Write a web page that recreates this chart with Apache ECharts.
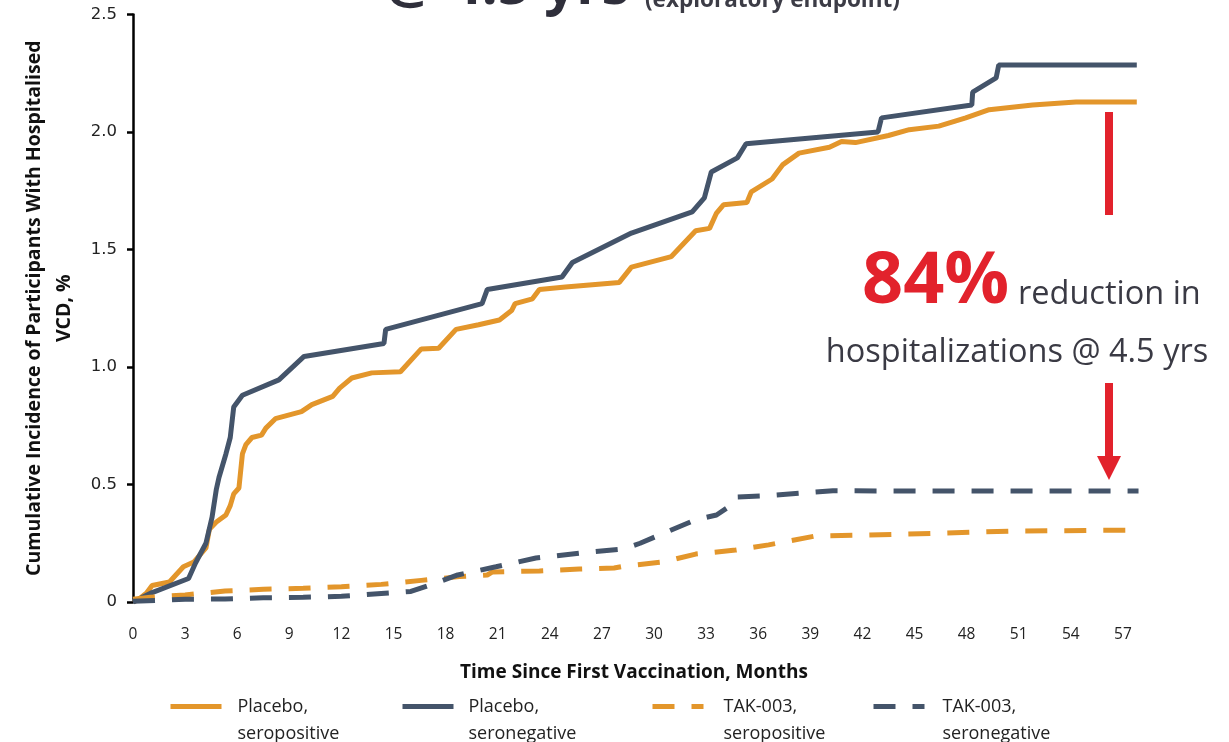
<!DOCTYPE html>
<html>
<head>
<meta charset="utf-8">
<script src="https://cdn.jsdelivr.net/npm/echarts@6/dist/echarts.min.js"></script>
<style>
  html, body { margin: 0; padding: 0; background: #fff; }
  #chart { width: 1229px; height: 742px; }
</style>
</head>
<body>
<div id="chart"></div>
<script>
// months, cumulative incidence %
const placeboSeropos = [
  [0, 0], [0.3, 0.01], [0.8, 0.04], [1.1, 0.07], [2.1, 0.085], [2.9, 0.15], [3.5, 0.17],
  [4.2, 0.23], [4.4, 0.31], [4.8, 0.34], [5.35, 0.37], [5.6, 0.41], [5.8, 0.46], [6.1, 0.485],
  [6.3, 0.63], [6.5, 0.67], [6.85, 0.70], [7.4, 0.71], [7.65, 0.74], [8.2, 0.78], [9.7, 0.81],
  [10.3, 0.84], [11.5, 0.875], [11.9, 0.91], [12.6, 0.953], [13.75, 0.975], [15.4, 0.98],
  [16.6, 1.077], [17.6, 1.08], [18.6, 1.16], [19.9, 1.18], [21.1, 1.20], [21.8, 1.24],
  [22.0, 1.27], [23.0, 1.29], [23.4, 1.33], [24.9, 1.34], [28.0, 1.36], [28.7, 1.425],
  [31.0, 1.47], [32.4, 1.58], [33.2, 1.59], [33.6, 1.655], [34.0, 1.69], [35.35, 1.70],
  [35.6, 1.745], [36.8, 1.80], [37.4, 1.86], [38.35, 1.91], [40.1, 1.935], [40.8, 1.96],
  [41.6, 1.955], [43.5, 1.985], [44.7, 2.01], [46.4, 2.025], [47.95, 2.06], [49.3, 2.095],
  [51.8, 2.115], [54.3, 2.128], [57.8, 2.128]
];
const placeboSeroneg = [
  [0, 0], [1.1, 0.04], [3.2, 0.10], [3.6, 0.166], [4.2, 0.25], [4.55, 0.36], [4.8, 0.48],
  [4.95, 0.53], [5.35, 0.63], [5.6, 0.70], [5.8, 0.83], [6.3, 0.88], [8.4, 0.945],
  [9.85, 1.045], [14.45, 1.10], [14.55, 1.16], [20.1, 1.27], [20.4, 1.33], [24.7, 1.383],
  [25.3, 1.445], [28.7, 1.57], [32.2, 1.66], [32.9, 1.72], [33.3, 1.83], [34.8, 1.89],
  [35.3, 1.95], [42.9, 2.00], [43.1, 2.06], [48.3, 2.115], [48.35, 2.17], [49.7, 2.23],
  [49.85, 2.285], [57.8, 2.285]
];
const takSeropos = [
  [0, 0.012], [1, 0.02], [3, 0.03], [5.3, 0.047], [7.5, 0.054], [9.8, 0.058], [12, 0.065],
  [14.3, 0.075], [16.6, 0.092], [18.8, 0.108], [20.4, 0.115], [20.7, 0.128], [22, 0.13],
  [23.4, 0.132], [25.7, 0.14], [27.7, 0.145], [28.3, 0.153], [30.5, 0.17], [32.4, 0.204],
  [34.7, 0.221], [36.6, 0.243], [39.3, 0.281], [42.4, 0.285], [46.6, 0.293], [50.8, 0.302],
  [57.8, 0.306]
];
const takSeroneg = [
  [0, 0.003], [3, 0.012], [5.3, 0.013], [7.5, 0.018], [9.8, 0.02], [12, 0.024], [14.3, 0.036],
  [16, 0.045], [17.2, 0.075], [18.7, 0.115], [20.9, 0.15], [23.2, 0.187], [25.7, 0.208],
  [28.2, 0.225], [29.2, 0.25], [32.4, 0.35], [33.6, 0.37], [34.3, 0.405], [34.7, 0.447],
  [36.2, 0.451], [38.6, 0.464], [40.3, 0.473], [57.9, 0.472]
];
const seriesNames = ['Placebo,\nseropositive', 'Placebo,\nseronegative', 'TAK-003,\nseropositive', 'TAK-003,\nseronegative'];

const ORANGE = '#e3962b';
const SLATE = '#44546a';
const RED = '#e2222c';

const chart = echarts.init(document.getElementById('chart'));

function legendAt(name, left, padLeft) {
  return {
    data: [name],
    left: left,
    top: 666,
    padding: 0,
    itemWidth: 51,
    itemHeight: 4,
    selectedMode: false,
    lineStyle: { width: 'inherit' },
    itemStyle: { opacity: 0 },
    // blank first line so the icon sits level with the first text line
    formatter: n => '\n' + n,
    textStyle: {
      fontFamily: 'Open Sans',
      fontSize: 18,
      color: '#222',
      lineHeight: 27,
      padding: [0, 0, 0, padLeft]
    }
  };
}

function lineSeries(name, data, color, dashed) {
  return {
    name: name,
    type: 'line',
    data: data,
    symbol: 'none',
    silent: true,
    lineStyle: { color: color, width: 5, type: dashed ? [22, 17] : 'solid', cap: 'butt' },
    itemStyle: { color: color }
  };
}

chart.setOption({
  animation: false,
  grid: { left: 133, right: 54, top: 14.5, bottom: 140 },
  xAxis: {
    type: 'value',
    min: 0,
    max: 60,
    interval: 3,
    axisLine: { show: false },
    axisTick: { show: false },
    splitLine: { show: false },
    axisLabel: {
      showMaxLabel: false,
      margin: 25,
      fontFamily: 'Open Sans',
      fontSize: 15.5,
      color: '#222'
    },
    name: 'Time Since First Vaccination, Months',
    nameLocation: 'middle',
    nameGap: 61,
    nameTextStyle: {
      fontFamily: 'Open Sans',
      fontWeight: 'bold',
      fontSize: 19,
      color: '#111',
      padding: [0, 40, 0, 0]
    }
  },
  yAxis: {
    type: 'value',
    min: 0,
    max: 2.5,
    interval: 0.5,
    axisLine: { show: true, lineStyle: { color: '#000', width: 2.5 } },
    axisTick: { show: true, length: 6, lineStyle: { color: '#000', width: 2.5 } },
    splitLine: { show: false },
    axisLabel: {
      margin: 16,
      fontFamily: 'DejaVu Sans',
      fontSize: 16.5,
      color: '#222',
      formatter: v => (v === 0 ? '0' : v.toFixed(1))
    },
    name: 'Cumulative Incidence of Participants With Hospitalised\nVCD, %',
    nameLocation: 'middle',
    nameRotate: 90,
    nameGap: 48,
    nameTextStyle: {
      fontFamily: 'Open Sans',
      fontWeight: 'bold',
      fontSize: 19.5,
      lineHeight: 30,
      color: '#111'
    }
  },
  legend: [
    legendAt(seriesNames[0], 168, 11),
    legendAt(seriesNames[1], 400, 10),
    legendAt(seriesNames[2], 650, 15),
    legendAt(seriesNames[3], 871, 13)
  ],
  series: [
    lineSeries(seriesNames[0], placeboSeropos, ORANGE, false),
    lineSeries(seriesNames[1], placeboSeroneg, SLATE, false),
    lineSeries(seriesNames[2], takSeropos, ORANGE, true),
    lineSeries(seriesNames[3], takSeroneg, SLATE, true)
  ],
  graphic: [
    {
      type: 'text', left: 385, top: -40,
      style: { text: '@ 4.5 yrs', font: 'bold 56px "Open Sans"', fill: '#2f2f3b' }
    },
    {
      type: 'text', left: 645, top: -11,
      style: { text: '(exploratory endpoint)', font: 'bold 22.5px "Open Sans"', fill: '#3c3c46' }
    },
    { type: 'rect', shape: { x: 1105, y: 112, width: 8, height: 103 }, style: { fill: RED } },
    { type: 'rect', shape: { x: 1105, y: 383, width: 8, height: 76 }, style: { fill: RED } },
    {
      type: 'polygon',
      shape: { points: [[1097, 456], [1121, 456], [1109, 480]] },
      style: { fill: RED }
    },
    {
      type: 'text', x: 862, y: 282,
      style: { text: '84%', font: 'bold 72px "Open Sans"', fill: RED, verticalAlign: 'middle' }
    },
    {
      type: 'text', x: 1018, y: 295,
      style: { text: 'reduction in', font: '32.5px "Open Sans"', fill: '#3a3a44', verticalAlign: 'middle' }
    },
    {
      type: 'text', x: 1017, y: 353,
      style: {
        text: 'hospitalizations @ 4.5 yrs', font: '32.5px "Open Sans"', fill: '#3a3a44',
        align: 'center', verticalAlign: 'middle'
      }
    }
  ]
});
</script>
</body>
</html>
